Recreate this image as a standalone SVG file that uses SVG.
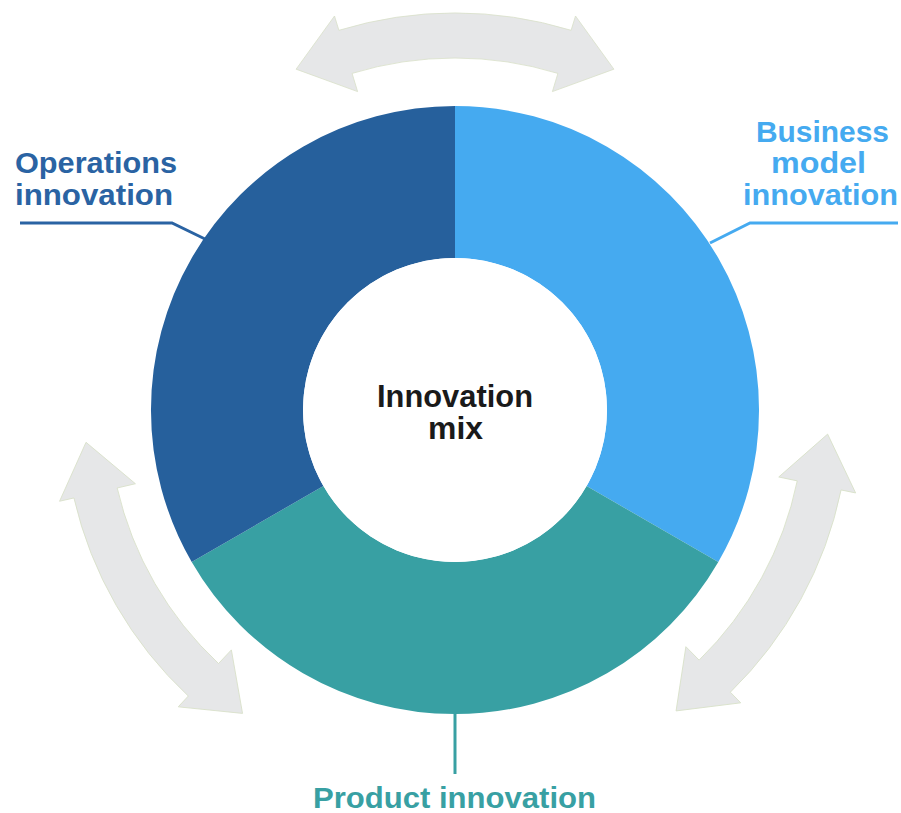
<svg xmlns="http://www.w3.org/2000/svg" width="901" height="813" viewBox="0 0 901 813">
<style>
.lbl{font-family:"Liberation Sans",Arial,sans-serif;font-weight:bold;font-size:29px}
.ctr{font-family:"Liberation Sans",Arial,sans-serif;font-weight:bold;font-size:31px;fill:#1a1a1a}
.lead{fill:none;stroke-width:3;stroke-linejoin:miter}
.arr{fill:#e6e7e8;stroke:#d8e0c8;stroke-width:0.8}
</style>
<defs>
<path id="cycleArrow" class="arr" d="M -116.1,-379.7 A 397 397 0 0 1 116.1,-379.7 L 120.5,-394.0 L 158.9,-340.8 L 97.4,-318.4 L 102.9,-336.6 A 352 352 0 0 0 -102.9,-336.6 L -97.4,-318.4 L -158.9,-340.8 L -120.5,-394.0 Z"/>
</defs>
<rect width="901" height="813" fill="#ffffff"/>
<g id="connectors">
<use href="#cycleArrow" transform="translate(455,410)"/>
<use href="#cycleArrow" transform="translate(455,410) rotate(118.7) scale(0.993)"/>
<use href="#cycleArrow" transform="translate(455,410) rotate(240) scale(0.985)"/>
<polyline class="lead" stroke="#2a63a3" points="20,223 172,223 205,239"/>
<polyline class="lead" stroke="#45aaf0" points="898,223 750,223 710,243"/>
<line class="lead" stroke="#38a0a3" x1="455" y1="712" x2="455" y2="774"/>
</g>
<g id="business-model">
<path fill="#45aaf0" d="M 455,106 A 304 304 0 0 1 718.3,562 L 586.6,486 A 152 152 0 0 0 455,258 Z"/>
<text class="lbl" fill="#45aaf0" x="756" y="142" textLength="133" lengthAdjust="spacingAndGlyphs">Business</text>
<text class="lbl" fill="#45aaf0" x="771" y="173" textLength="95" lengthAdjust="spacingAndGlyphs">model</text>
<text class="lbl" fill="#45aaf0" x="743" y="205" textLength="155" lengthAdjust="spacingAndGlyphs">innovation</text>
</g>
<g id="product">
<path fill="#38a0a3" d="M 718.3,562 A 304 304 0 0 1 191.7,562 L 323.4,486 A 152 152 0 0 0 586.6,486 Z"/>
<text class="lbl" fill="#38a0a3" x="313" y="808" textLength="283" lengthAdjust="spacingAndGlyphs">Product innovation</text>
</g>
<g id="operations">
<path fill="#26609c" d="M 191.7,562 A 304 304 0 0 1 455,106 L 455,258 A 152 152 0 0 0 323.4,486 Z"/>
<text class="lbl" fill="#2a63a3" x="15" y="173" textLength="162" lengthAdjust="spacingAndGlyphs">Operations</text>
<text class="lbl" fill="#2a63a3" x="15" y="205" textLength="158" lengthAdjust="spacingAndGlyphs">innovation</text>
</g>
<g id="center">
<circle cx="455" cy="410" r="152" fill="#ffffff"/>
<text class="ctr" x="377" y="407" textLength="156" lengthAdjust="spacingAndGlyphs">Innovation</text>
<text class="ctr" x="428" y="439" textLength="55" lengthAdjust="spacingAndGlyphs">mix</text>
</g>
</svg>
